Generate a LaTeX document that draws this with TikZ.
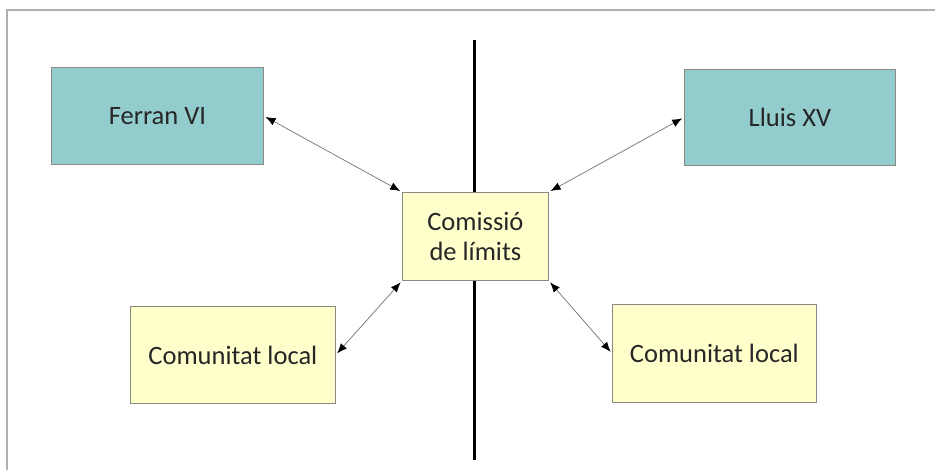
\documentclass[tikz,border=0pt]{standalone}
\usepackage{fontspec}
\setmainfont{Carlito}
\usetikzlibrary{arrows.meta}
\definecolor{teal1}{HTML}{93CCCC}
\definecolor{yel1}{HTML}{FFFFCC}
\definecolor{edge1}{HTML}{8A8A80}
\definecolor{frame1}{HTML}{B0B0B0}
\begin{document}
\begin{tikzpicture}[x=1pt,y=-1pt,
  box/.style={draw=edge1,line width=0.8pt,inner sep=0pt,anchor=north west,font=\fontsize{26.5}{30}\selectfont,text=black!85},
  kingbox/.style={box,fill=teal1},
  localbox/.style={box,fill=yel1},
  arr/.style={draw=black!50,line width=0.8pt,{Latex[length=10pt,width=8pt,black]}-{Latex[length=10pt,width=8pt,black]},shorten <=2pt,shorten >=2pt}]
\useasboundingbox (0,0) rectangle (935,470);
\fill[white] (0,0) rectangle (935,470);
\coordinate (ftl) at (7,470);
\coordinate (fc) at (7,10);
\coordinate (ftr) at (935,10);
\draw[frame1,line width=1.5pt] (ftl) -- (fc) -- (ftr);
\coordinate (vtop) at (474,40);
\coordinate (vbot) at (474,460);
\draw[black,line width=3pt] (vtop) -- (vbot);
\node[kingbox,minimum width=212pt,minimum height=97pt] (f) at (51,67) {Ferran VI};
\node[kingbox,minimum width=211pt,minimum height=96pt] (l) at (684,69) {Lluis XV};
\node[localbox,minimum width=146pt,minimum height=88pt,align=center] (c) at (402,192) {Comissió\\de límits};
\node[localbox,minimum width=205pt,minimum height=97pt] (cl) at (130,306) {Comunitat local};
\node[localbox,minimum width=204pt,minimum height=98pt] (cr) at (612,304) {Comunitat local};
\draw[arr] (f.east) -- (c.north west);
\draw[arr] (l.west) -- (c.north east);
\draw[arr] (c.south west) -- (cl.east);
\draw[arr] (c.south east) -- (cr.west);
\end{tikzpicture}
\end{document}
